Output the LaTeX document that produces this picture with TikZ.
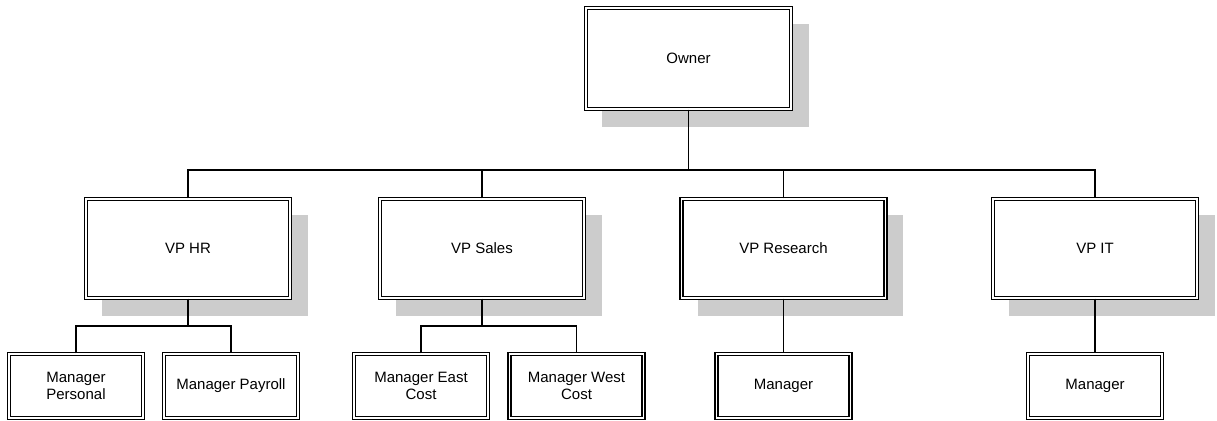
\documentclass[tikz,border=0pt]{standalone}
\usepackage{fontspec}
\setmainfont{Liberation Sans}
\usetikzlibrary{positioning, calc, backgrounds}
\definecolor{shadowgray}{HTML}{CCCCCC}

\begin{document}
\begin{tikzpicture}[x=1pt, y=-1pt,
    box/.style={rectangle, draw=black, double=white, line width=1.2pt, double distance=1.8pt, fill=white, minimum width=#1, align=center, inner sep=2pt, font=\fontsize{15pt}{17pt}\selectfont},
    bigbox/.style={box=204pt, minimum height=99pt},
    smallbox/.style={box=134pt, minimum height=64pt},
    link/.style={draw=black, line width=1.3pt},
]
\useasboundingbox (0,0) rectangle (1217,420);

% top level
\node[box=205pt, minimum height=101pt] (owner) at (688.5,58.5) {Owner};

% vice presidents
\node[bigbox] (vphr) at (188,248.5) {VP HR};
\node[bigbox] (vpsales) at (482,248.5) {VP Sales};
\node[bigbox] (vpres) at (783.5,248.5) {VP Research};
\node[bigbox] (vpit) at (1095,248.5) {VP IT};

% managers
\node[smallbox] (mgrpers) at (76,386) {Manager\\Personal};
\node[smallbox] (mgrpay) at (231,386) {Manager Payroll};
\node[smallbox] (mgreast) at (421,386) {Manager East\\Cost};
\node[smallbox] (mgrwest) at (576.5,386) {Manager West\\Cost};
\node[smallbox] (mgrres) at (783.5,386) {Manager};
\node[smallbox] (mgrit) at (1095,386) {Manager};

\begin{scope}[on background layer]
\foreach \n in {owner, vphr, vpsales, vpres, vpit}
    \fill[shadowgray] ([shift={(17,17)}]\n.south west) rectangle ([shift={(17,17)}]\n.north east);
\end{scope}

\coordinate (topbus) at (688.5,170);
\coordinate (hrbus) at (188,326);
\coordinate (salesbus) at (482,326);

\draw[link] (owner.south) -- (topbus);
\draw[link] (vphr.north) |- (topbus) -| (vpit.north);
\draw[link] (vpsales.north) -- (vpsales.north |- topbus);
\draw[link] (vpres.north) -- (vpres.north |- topbus);

\draw[link] (vphr.south) -- (hrbus);
\draw[link] (mgrpers.north) |- (hrbus) -| (mgrpay.north);
\draw[link] (vpsales.south) -- (salesbus);
\draw[link] (mgreast.north) |- (salesbus) -| (mgrwest.north);
\draw[link] (vpres.south) -- (mgrres.north);
\draw[link] (vpit.south) -- (mgrit.north);
\end{tikzpicture}
\end{document}
